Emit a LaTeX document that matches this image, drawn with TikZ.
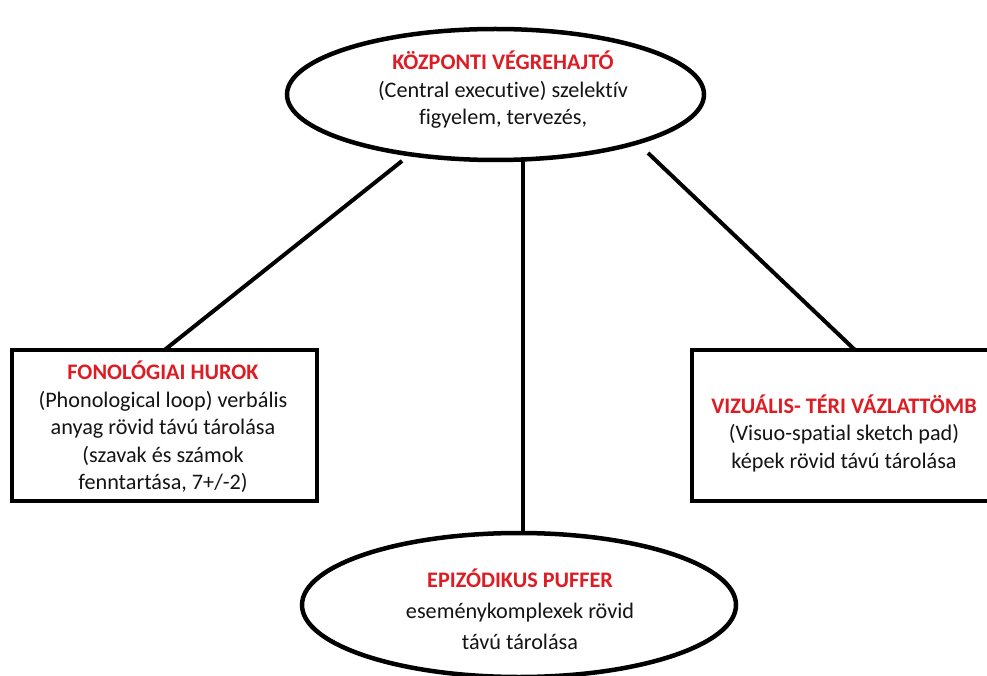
\documentclass[tikz,border=0pt]{standalone}
\usepackage{fontspec}
\setmainfont{Carlito}[Ligatures=NoCommon]
\usetikzlibrary{shapes.geometric}
\definecolor{titlered}{RGB}{222,28,36}
\definecolor{bodyink}{RGB}{20,20,20}
\begin{document}
\begin{tikzpicture}[x=1pt,y=-1pt,
  oval/.style={draw=black,line width=4.5pt,ellipse,inner sep=0pt,fill=white},
  panel/.style={draw=black,line width=4.5pt,fill=white},
  link/.style={draw=black,line width=4pt},
  txt/.style={align=center,inner sep=0pt,text=bodyink,
    font=\fontsize{22.2}{27.5}\selectfont}]
\clip (0,0) rectangle (987,676);
\fill[white] (0,0) rectangle (987,676);

% central executive
\node[oval,minimum width=417pt,minimum height=131pt] (ce) at (495.5,94.5) {};
\node[txt] (ce-t) at (503,90) {{\bfseries\color{titlered}KÖZPONTI VÉGREHAJTÓ}\\
  (Central executive) szelektív\\ figyelem, tervezés,};

% phonological loop
\draw[panel] (12,350) rectangle (317,501);
\coordinate (pl) at (164.5,350);
\node[txt] (pl-t) at (163,427) {{\bfseries\color{titlered}FONOLÓGIAI HUROK}\\
  (Phonological loop) verbális\\ anyag rövid távú tárolása\\
  (szavak és számok\\ fenntartása, 7+/-2)};

% visuo-spatial sketch pad
\draw[panel] (692,350) rectangle (1018,501);
\coordinate (vs) at (855,350);
\node[txt] (vs-t) at (844,433) {{\bfseries\color{titlered}VIZUÁLIS- TÉRI VÁZLATTÖMB}\\
  (Visuo-spatial sketch pad)\\ képek rövid távú tárolása};

% episodic buffer
\node[oval,minimum width=434pt,minimum height=144pt] (ep) at (519,605) {};
\node[txt,font=\fontsize{22.2}{31}\selectfont] (ep-t) at (520,609)
  {{\bfseries\color{titlered}EPIZÓDIKUS PUFFER}\\
  eseménykomplexek rövid\\ távú tárolása};

% connectors
\coordinate (ce-l) at (402,161);
\coordinate (ce-m) at (523,160);
\coordinate (ce-r) at (648,153);
\draw[link] (ce-l) -- (pl);
\draw[link] (ce-r) -- (vs);
\draw[link] (ce-m) -- (ce-m |- ep.north);
\end{tikzpicture}
\end{document}
